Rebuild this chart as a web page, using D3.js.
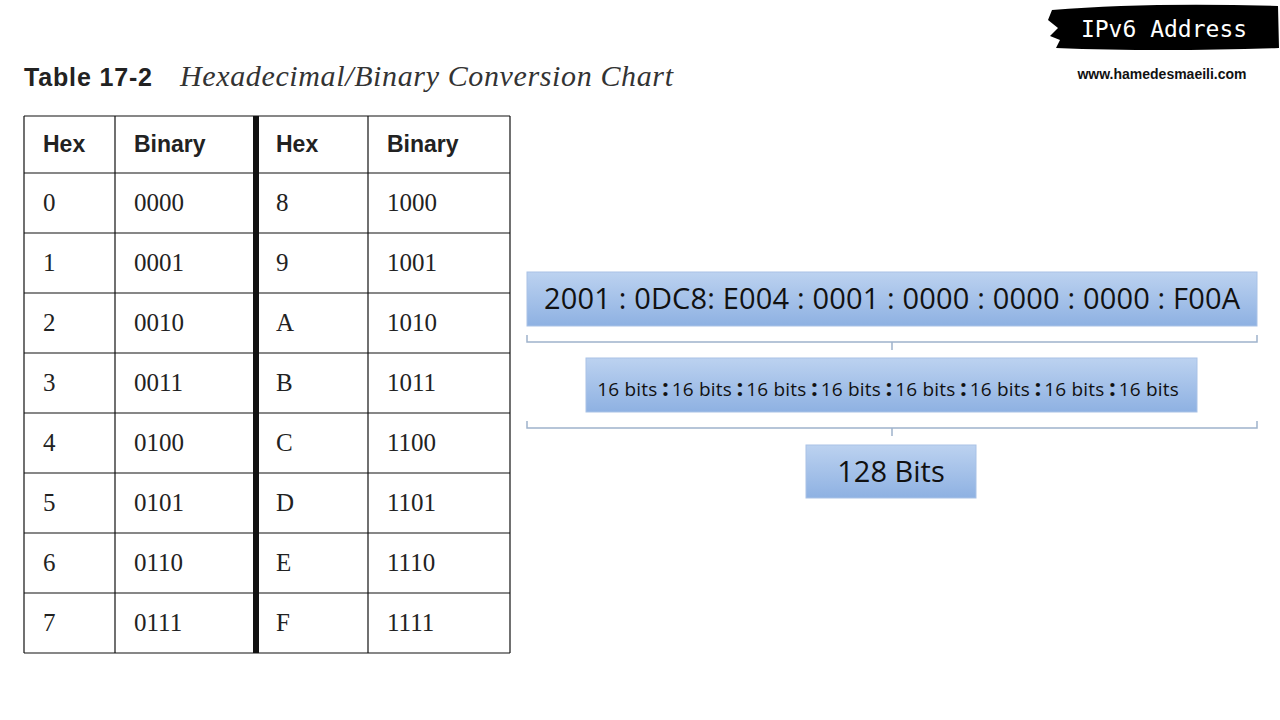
<!DOCTYPE html><html><head><meta charset="utf-8"><script src="https://cdn.jsdelivr.net/npm/d3@7"></script>
<style>body{margin:0;background:#fff}</style></head><body><svg id="s" width="1280" height="720"></svg>
<script>
const hexLeft=["0","1","2","3","4","5","6","7"];
const binLeft=["0000","0001","0010","0011","0100","0101","0110","0111"];
const hexRight=["8","9","A","B","C","D","E","F"];
const binRight=["1000","1001","1010","1011","1100","1101","1110","1111"];
const headers=["Hex","Binary","Hex","Binary"];
const address="2001 : 0DC8: E004 : 0001 : 0000 : 0000 : 0000 : F00A";
const groups=d3.range(8).map(()=> "16 bits");
const total="128 Bits";

const svg=d3.select("#s");
const defs=svg.append("defs");
const g=defs.append("linearGradient").attr("id","bg").attr("x1",0).attr("y1",0).attr("x2",0).attr("y2",1);
g.append("stop").attr("offset","0").attr("stop-color","#bcd2f0");
g.append("stop").attr("offset","1").attr("stop-color","#8eb1e2");

const t=svg.append("text").attr("x",24).attr("y",86);
t.append("tspan").text("Table 17-2").attr("font-family","Liberation Sans, Arial").attr("font-weight","bold").attr("font-size",25).attr("fill","#222").attr("textLength",128);
t.append("tspan").text("Hexadecimal/Binary Conversion Chart").attr("x",180).attr("font-family","Liberation Serif, Times New Roman").attr("font-style","italic").attr("font-size",30).attr("fill","#333").attr("textLength",493);

const colX=[24,115,256,368,510];
const rowY=d3.scaleLinear().domain([1,9]).range([173,653]);
const rowTop=r=>r===0?116:rowY(r);
const rows=d3.range(8).map(i=>[hexLeft[i],binLeft[i],hexRight[i],binRight[i]]);
const tb=svg.append("g");
for(let r=0;r<=9;r++) tb.append("line").attr("x1",colX[0]).attr("x2",colX[4]).attr("y1",rowTop(r)).attr("y2",rowTop(r)).attr("stroke","#111").attr("stroke-width",1.2);
colX.forEach((x,i)=>tb.append("line").attr("x1",x).attr("x2",x).attr("y1",116).attr("y2",653).attr("stroke","#111").attr("stroke-width",i==2?6:1.2));
headers.forEach((h,c)=>tb.append("text").attr("x",colX[c]+(c==2?20:19)).attr("y",152).text(h)
  .attr("font-family","Liberation Sans, Arial").attr("font-weight","bold").attr("font-size",23).attr("fill","#222"));
rows.forEach((row,r)=>row.forEach((v,c)=>tb.append("text").attr("x",colX[c]+(c==2?20:19)).attr("y",(rowY(r+1)+rowY(r+2))/2+8).text(v)
  .attr("font-family","Liberation Serif, Times New Roman").attr("font-size",25).attr("fill","#222")));

function box(x,y,w,h,txt,fs){
  svg.append("rect").attr("x",x).attr("y",y).attr("width",w).attr("height",h).attr("fill","url(#bg)").attr("stroke","#a9c2e6");
  svg.append("text").attr("x",x+w/2).attr("y",y+h/2+fs*0.36).attr("text-anchor","middle").text(txt)
   .attr("font-family","Open Sans, Noto Sans").attr("font-size",fs).attr("fill","#111").attr("textLength",txt.length>20?w-34:null);
}
box(527,272,730,54,address,29);
function brace(y){
  svg.append("path").attr("d",`M527,${y-7}V${y}H1257V${y-7}M892,${y}V${y+8}`).attr("fill","none").attr("stroke","#9fb3cc").attr("stroke-width",1.5);
}
brace(342);
svg.append("rect").attr("x",586).attr("y",358).attr("width",611).attr("height",54).attr("fill","url(#bg)").attr("stroke","#a9c2e6");
const gx=d3.scaleBand().domain(d3.range(8)).range([594,1190]);
groups.forEach((s,i)=>{
  svg.append("text").attr("x",gx(i)+gx.bandwidth()/2-4).attr("y",396).attr("text-anchor","middle").text(s)
   .attr("font-family","Open Sans, Noto Sans").attr("font-size",19).attr("fill","#111").attr("textLength",60);
  if(i<7) svg.append("text").attr("x",gx(i+1)-3).attr("y",396).attr("text-anchor","middle").text(":").attr("font-family","Open Sans").attr("font-weight","bold").attr("font-size",24).attr("fill","#111");
});
brace(428);
box(806,445,170,53,total,29);

svg.append("path").attr("d","M1052,10 Q1150,2 1278,6 L1279,48 Q1160,52 1056,48 L1060,40 1050,36 1058,28 1048,20Z").attr("fill","#000");
svg.append("text").attr("x",1164).attr("y",37).attr("text-anchor","middle").text("IPv6 Address").attr("font-family","DejaVu Sans Mono, monospace").attr("font-size",23).attr("fill","#fff");
svg.append("text").attr("x",1162).attr("y",79).attr("text-anchor","middle").text("www.hamedesmaeili.com").attr("font-family","Liberation Sans, Arial").attr("font-weight","bold").attr("font-size",14).attr("fill","#111");
</script></body></html>
